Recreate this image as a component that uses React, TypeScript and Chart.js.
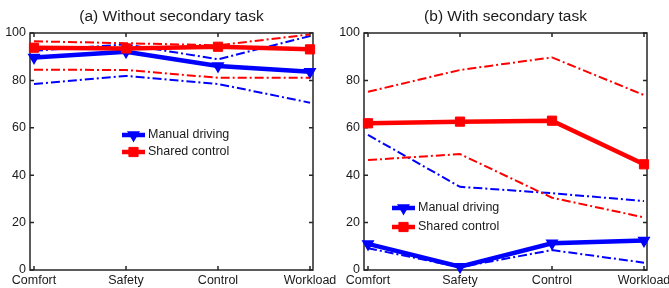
import React, { useEffect, useRef } from 'react';
import { Chart, registerables } from 'chart.js';

Chart.register(...registerables);

const FONT = "'Liberation Sans', Arial, Helvetica, sans-serif";
const BLUE = '#0000ff';
const RED = '#ff0000';
const INK = '#1a1a1a';

// ---- data ----
const categories = ['Comfort', 'Safety', 'Control', 'Workload'];
const yTickValues = [0, 20, 40, 60, 80, 100];

// (a) Without secondary task
const aManualMean = [89.7, 92.1, 86.1, 83.7];
const aManualUpper = [92.5, 95.2, 88.9, 98.7];
const aManualLower = [78.5, 81.9, 78.5, 70.6];
const aSharedMean = [93.8, 93.5, 94.2, 93.1];
const aSharedUpper = [96.5, 95.7, 94.8, 99.4];
const aSharedLower = [84.5, 84.4, 81.1, 81.1];

// (b) With secondary task
const bManualMean = [11.0, 1.4, 11.3, 12.4];
const bManualUpper = [57.0, 35.1, 32.4, 29.1];
const bManualLower = [9.2, 1.2, 8.4, 3.1];
const bSharedMean = [61.9, 62.6, 63.0, 44.6];
const bSharedUpper = [75.2, 84.4, 89.7, 73.8];
const bSharedLower = [46.4, 48.9, 30.5, 22.2];

const pts = (arr: number[]) => arr.map((y, i) => ({ x: i + 1, y }));

function buildDatasets(
  manualMean: number[], manualUpper: number[], manualLower: number[],
  sharedMean: number[], sharedUpper: number[], sharedLower: number[]
) {
  const band = (label: string, arr: number[], color: string, order: number) => ({
    label,
    data: pts(arr),
    borderColor: color,
    backgroundColor: color,
    borderWidth: 2,
    borderDash: [9, 3, 2, 3],
    pointRadius: 0,
    pointHoverRadius: 0,
    fill: false,
    tension: 0,
    order,
    clip: false,
  });
  return [
    {
      label: 'Shared control',
      data: pts(sharedMean),
      borderColor: RED,
      backgroundColor: RED,
      borderWidth: 4.5,
      pointStyle: 'rect',
      pointRadius: 6.5,
      pointBorderWidth: 1,
      pointBackgroundColor: RED,
      pointBorderColor: RED,
      fill: false,
      tension: 0,
      order: 0,
      clip: false,
      legendRank: 2,
    },
    {
      label: 'Manual driving',
      data: pts(manualMean),
      borderColor: BLUE,
      backgroundColor: BLUE,
      borderWidth: 4.5,
      pointStyle: 'triangle',
      pointRotation: 180,
      pointRadius: 6,
      pointBorderWidth: 1.5,
      pointBackgroundColor: BLUE,
      pointBorderColor: BLUE,
      fill: false,
      tension: 0,
      order: 1,
      clip: false,
      legendRank: 1,
    },
    band('Shared upper', sharedUpper, RED, 2),
    band('Shared lower', sharedLower, RED, 3),
    band('Manual upper', manualUpper, BLUE, 4),
    band('Manual lower', manualLower, BLUE, 5),
  ];
}

const framePlugin = {
  id: 'matlabFrame',
  beforeDatasetsDraw(chart: any) {
    const { ctx, chartArea, scales } = chart;
    const { left, right, top, bottom } = chartArea;
    const x = scales.x;
    const y = scales.y;
    ctx.save();
    ctx.strokeStyle = '#262626';
    ctx.lineWidth = 1.5;
    ctx.strokeRect(left, top, right - left, bottom - top);
    ctx.beginPath();
    const tl = 4;
    y.ticks.forEach((t: any) => {
      const py = y.getPixelForValue(t.value);
      ctx.moveTo(left, py);
      ctx.lineTo(left + tl, py);
      ctx.moveTo(right, py);
      ctx.lineTo(right - tl, py);
    });
    x.ticks.forEach((t: any) => {
      const px = x.getPixelForValue(t.value);
      ctx.moveTo(px, bottom);
      ctx.lineTo(px, bottom - tl);
      ctx.moveTo(px, top);
      ctx.lineTo(px, top + tl);
    });
    ctx.stroke();
    ctx.restore();
  },
};

const legendPlugin = {
  id: 'panelLegend',
  afterDraw(chart: any) {
    const cfg = chart.options.plugins.panelLegend;
    if (!cfg) return;
    const { ctx } = chart;
    const items = chart.data.datasets
      .filter((d: any) => d.legendRank)
      .sort((a: any, b: any) => a.legendRank - b.legendRank);
    ctx.save();
    items.forEach((d: any, i: number) => {
      const cy = cfg.y + i * cfg.gap;
      const x0 = cfg.x;
      const len = 23;
      ctx.strokeStyle = d.borderColor;
      ctx.fillStyle = d.borderColor;
      ctx.lineWidth = d.borderWidth;
      ctx.setLineDash([]);
      ctx.beginPath();
      ctx.moveTo(x0, cy);
      ctx.lineTo(x0 + len, cy);
      ctx.stroke();
      const mx = x0 + len / 2;
      const r = d.pointRadius;
      ctx.beginPath();
      if (d.pointStyle === 'triangle') {
        ctx.moveTo(mx, cy + r);
        ctx.lineTo(mx - r * 0.866, cy - r * 0.5);
        ctx.lineTo(mx + r * 0.866, cy - r * 0.5);
        ctx.closePath();
      } else {
        const h = r * Math.SQRT1_2;
        ctx.rect(mx - h, cy - h, 2 * h, 2 * h);
      }
      ctx.fill();
      ctx.lineWidth = d.pointBorderWidth;
      ctx.stroke();
      ctx.fillStyle = INK;
      ctx.font = `12.5px ${FONT}`;
      ctx.textBaseline = 'middle';
      ctx.textAlign = 'left';
      ctx.fillText(d.label, x0 + len + 3, cy);
    });
    ctx.restore();
  },
};

type PanelProps = {
  title: string;
  datasets: any[];
  left: number;
  width: number;
  padRight: number;
  legend: { x: number; y: number; gap: number };
};

function Panel({ title, datasets, left, width, padRight, legend }: PanelProps) {
  const ref = useRef<HTMLCanvasElement | null>(null);
  useEffect(() => {
    if (!ref.current) return;
    const chart = new Chart(ref.current, {
      type: 'line',
      data: { datasets },
      options: {
        responsive: false,
        animation: false,
        events: [],
        layout: { padding: { left: 0, right: padRight, top: 0, bottom: 0 } },
        plugins: {
          legend: { display: false },
          tooltip: { enabled: false },
          title: {
            display: true,
            text: title,
            color: INK,
            fullSize: false,
            font: { family: FONT, size: 15.5, weight: 'normal' },
            padding: { top: 7.5, bottom: 6.9 },
          },
          panelLegend: legend,
        } as any,
        scales: {
          x: {
            type: 'linear',
            min: 1 - 4 / 92,
            max: 4 + 3 / 92,
            grid: { display: false, drawTicks: false },
            border: { display: false },
            ticks: {
              autoSkip: false,
              maxRotation: 0,
              padding: 3,
              color: INK,
              font: { family: FONT, size: 12.5 },
              callback: (v: any) => categories[Number(v) - 1] ?? '',
            },
            afterBuildTicks: (scale: any) => {
              scale.ticks = categories.map((_, i) => ({ value: i + 1 }));
            },
            afterFit: (scale: any) => {
              scale.height = 18;
              scale.paddingLeft = 0;
              scale.paddingRight = 0;
            },
          },
          y: {
            type: 'linear',
            min: 0,
            max: 100,
            grid: { display: false, drawTicks: false },
            border: { display: false },
            ticks: {
              padding: 4,
              color: INK,
              font: { family: FONT, size: 12.5 },
            },
            afterBuildTicks: (scale: any) => {
              scale.ticks = yTickValues.map((v) => ({ value: v }));
            },
            afterFit: (scale: any) => {
              scale.width = 30;
              scale.paddingTop = 0;
              scale.paddingBottom = 0;
            },
          },
        },
      } as any,
      plugins: [framePlugin, legendPlugin],
    });
    return () => chart.destroy();
  }, []);
  return (
    <canvas
      ref={ref}
      width={width}
      height={288}
      style={{ position: 'absolute', left, top: 0, width, height: 288, display: 'block' }}
    />
  );
}

export default function App() {
  const dsA = buildDatasets(aManualMean, aManualUpper, aManualLower, aSharedMean, aSharedUpper, aSharedLower);
  const dsB = buildDatasets(bManualMean, bManualUpper, bManualLower, bSharedMean, bSharedUpper, bSharedLower);
  return (
    <div style={{ position: 'absolute', left: 0, top: 0, width: 669, height: 288, overflow: 'hidden', background: '#fff' }}>
      <Panel
        title="(a) Without secondary task"
        datasets={dsA}
        left={0}
        width={345}
        padRight={32}
        legend={{ x: 122, y: 135, gap: 17 }}
      />
      <Panel
        title="(b) With secondary task"
        datasets={dsB}
        left={334}
        width={335}
        padRight={22}
        legend={{ x: 58, y: 208, gap: 19 }}
      />
    </div>
  );
}
